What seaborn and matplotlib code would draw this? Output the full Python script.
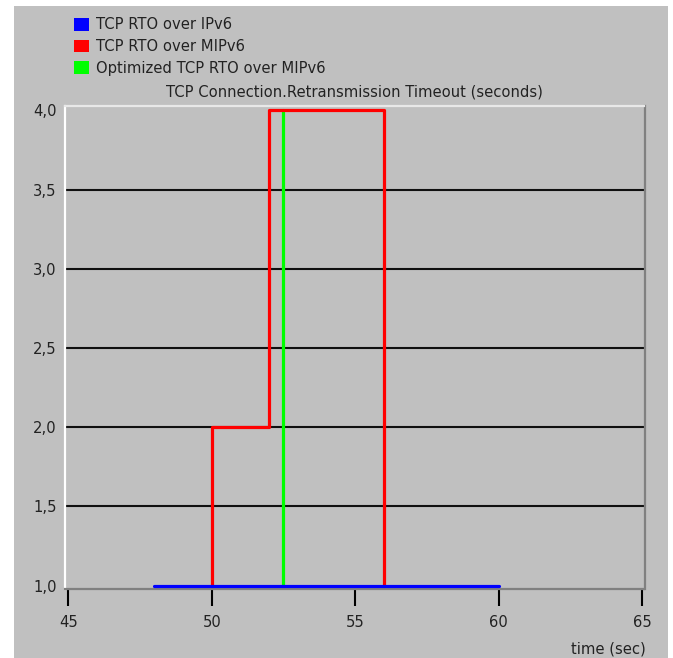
import matplotlib
matplotlib.use("Agg")
import matplotlib.pyplot as plt
import seaborn as sns
import pandas as pd
from matplotlib.patches import Patch, Rectangle
from matplotlib.ticker import FuncFormatter, FixedLocator

# ---- data ----
series_names = ["TCP RTO over IPv6", "TCP RTO over MIPv6", "Optimized TCP RTO over MIPv6"]
ipv6_time = [48, 60]
ipv6_rto = [1.0, 1.0]
mipv6_time = [50, 50, 52, 52, 56, 56]
mipv6_rto = [1.0, 2.0, 2.0, 4.0, 4.0, 1.0]
opt_time = [52.5, 52.5]
opt_rto = [1.0, 4.0]
x_ticks = [45, 50, 55, 60, 65]
y_ticks = [1.0, 1.5, 2.0, 2.5, 3.0, 3.5, 4.0]
colors = ["#0000ff", "#ff0000", "#00ff00"]
title = "TCP Connection.Retransmission Timeout (seconds)"
x_label = "time (sec)"

W, H = 673, 658
sns.set_theme(style="white")
plt.rcParams["font.family"] = ["DejaVu Sans"]
FS = 10.6
BG = "#c0c0c0"
TXT = "#222222"

fig = plt.figure(figsize=(W / 100, H / 100), dpi=100)
fig.patch.set_facecolor("white")
fig.patches.append(Rectangle((14 / W, 0), (668 - 14) / W, 1 - 6 / H,
                             transform=fig.transFigure, facecolor=BG,
                             edgecolor="none", zorder=-10))

ax = fig.add_axes([65 / W, 1 - 589 / H, (644.5 - 65) / W, (589 - 106) / H])
ax.set_facecolor(BG)

# interior gridlines
for yv in y_ticks[1:-1]:
    ax.axhline(yv, color="#101010", lw=1.5, zorder=1)

frames = []
for name, xs, ys in [(series_names[0], ipv6_time, ipv6_rto),
                     (series_names[1], mipv6_time, mipv6_rto),
                     (series_names[2], opt_time, opt_rto)]:
    frames.append(pd.DataFrame({"time": xs, "rto": ys, "series": name,
                                "order": range(len(xs))}))
df = pd.concat(frames, ignore_index=True)

zorders = {series_names[0]: 5, series_names[1]: 4, series_names[2]: 3}
for name, col in zip(series_names, colors):
    sub = df[df["series"] == name]
    sns.lineplot(data=sub, x="time", y="rto", sort=False, estimator=None,
                 color=col, lw=2.3, ax=ax, legend=False, zorder=zorders[name])

ax.set_xlim(45 - 3.3 / 28.7, 65 + 2.5 / 28.7)
ax.set_ylim(1 - 3.3 / 158.5, 4 + 4.3 / 158.5)
ax.xaxis.set_major_locator(FixedLocator(x_ticks))
ax.yaxis.set_major_locator(FixedLocator(y_ticks))
ax.yaxis.set_major_formatter(FuncFormatter(lambda v, p: f"{v:.1f}".replace(".", ",")))
ax.set_xlabel("")
ax.set_ylabel("")
ax.tick_params(axis="x", direction="out", length=12, width=1.5, color="black",
               pad=6.5, labelsize=FS, labelcolor=TXT, bottom=True)
ax.tick_params(axis="y", length=0, pad=6, labelsize=FS, labelcolor=TXT)

ax.spines["left"].set_color("white")
ax.spines["top"].set_color("#e8e8e8")
ax.spines["right"].set_color("#808080")
ax.spines["bottom"].set_color("#808080")
for s in ax.spines.values():
    s.set_linewidth(1.6)

ax.set_title(title, fontsize=FS, color=TXT, pad=6.5)
fig.text(608 / W, 1 - 649 / H, x_label, ha="center", va="center",
         fontsize=FS, color=TXT)

handles = [Patch(facecolor=c, edgecolor="none") for c in colors]
fig.legend(handles, series_names, loc="upper left",
           bbox_to_anchor=(64 / W, 1 - 7 / H), frameon=False,
           fontsize=FS, handlelength=1.0, handleheight=0.95,
           handletextpad=0.5, labelspacing=0.45, borderpad=0.2,
           labelcolor=TXT)

fig.savefig("out.png", dpi=100, facecolor=fig.get_facecolor())
